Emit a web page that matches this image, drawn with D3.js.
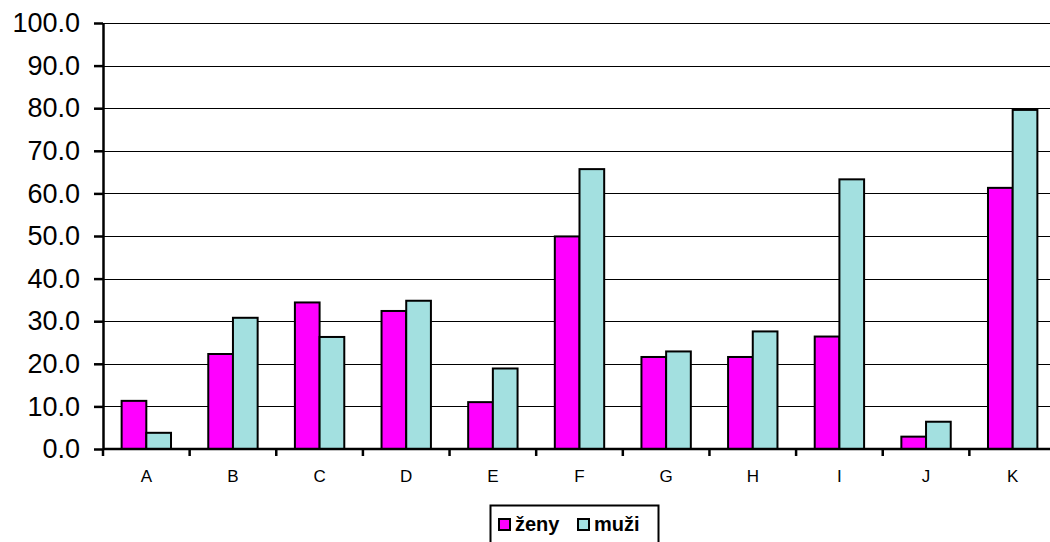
<!DOCTYPE html>
<html>
<head>
<meta charset="utf-8">
<script src="https://cdn.jsdelivr.net/npm/d3@7"></script>
<style>
  html, body { margin: 0; padding: 0; background: #fff; overflow: hidden; }
  svg { display: block; }
</style>
</head>
<body>
<svg id="chart" width="1050" height="542"></svg>
<script>
// Categories and the two series (women / men)
const categories = ["A", "B", "C", "D", "E", "F", "G", "H", "I", "J", "K"];
const zeny = [11.3, 22.3, 34.4, 32.4, 11.0, 49.9, 21.6, 21.6, 26.4, 2.9, 61.3];
const muzi = [3.8, 30.8, 26.3, 34.8, 18.9, 65.7, 22.9, 27.6, 63.3, 6.4, 79.6];
const seriesNames = ["ženy", "muži"];
const seriesColors = ["#ff00ff", "#a3e0e0"];
const yTicks = [0, 10, 20, 30, 40, 50, 60, 70, 80, 90, 100];

const svg = d3.select("#chart");
const plotLeft = 103, plotRight = 1056, plotTop = 23, plotBottom = 449;
const font = "Liberation Sans, Arial, sans-serif";

const y = d3.scaleLinear().domain([0, 100]).range([plotBottom, plotTop]);
const x0 = d3.scaleBand().domain(categories).range([plotLeft, plotRight])
  .paddingInner(0.43).paddingOuter(0.215);
const x1 = d3.scaleBand().domain(seriesNames).range([0, x0.bandwidth()]);
const color = d3.scaleOrdinal().domain(seriesNames).range(seriesColors);

// Horizontal gridlines
svg.append("g")
  .selectAll("line")
  .data(yTicks.filter(d => d > 0))
  .join("line")
  .attr("x1", plotLeft).attr("x2", 1050)
  .attr("y1", d => Math.round(y(d)) + 0.5).attr("y2", d => Math.round(y(d)) + 0.5)
  .attr("stroke", "#000").attr("stroke-width", 1);

// Bars
const rows = categories.map((c, i) => ({ cat: c, values: [zeny[i], muzi[i]] }));
svg.append("g")
  .selectAll("g")
  .data(rows)
  .join("g")
  .attr("transform", d => `translate(${x0(d.cat)},0)`)
  .selectAll("rect")
  .data(d => d.values.map((v, k) => ({ name: seriesNames[k], value: v })))
  .join("rect")
  .attr("x", d => x1(d.name))
  .attr("y", d => y(d.value))
  .attr("width", x1.bandwidth())
  .attr("height", d => y(0) - y(d.value))
  .attr("fill", d => color(d.name))
  .attr("stroke", "#000")
  .attr("stroke-width", 2);

// Y axis
const yAxis = d3.axisLeft(y).tickValues(yTicks).tickFormat(d3.format(".1f"))
  .tickSizeInner(9).tickSizeOuter(0).tickPadding(14);
const gy = svg.append("g").attr("transform", `translate(${plotLeft},0)`).call(yAxis);
gy.select(".domain").attr("stroke", "#000").attr("stroke-width", 2.5);
gy.selectAll(".tick line").attr("stroke", "#000").attr("stroke-width", 2.5);
gy.selectAll(".tick text")
  .attr("font-family", font)
  .attr("font-size", 27).attr("fill", "#000");

// X axis baseline and tick marks at band boundaries
const step = x0.step();
svg.append("line")
  .attr("x1", plotLeft).attr("x2", 1050)
  .attr("y1", plotBottom).attr("y2", plotBottom)
  .attr("stroke", "#000").attr("stroke-width", 2.5);
svg.append("g")
  .selectAll("line")
  .data(d3.range(categories.length + 1))
  .join("line")
  .attr("x1", i => plotLeft + i * step).attr("x2", i => plotLeft + i * step)
  .attr("y1", plotBottom).attr("y2", plotBottom + 7)
  .attr("stroke", "#000").attr("stroke-width", 2.5);

// Category labels
svg.append("g")
  .selectAll("text")
  .data(categories)
  .join("text")
  .attr("x", d => x0(d) + x0.bandwidth() / 2)
  .attr("y", 482)
  .attr("text-anchor", "middle")
  .attr("font-family", font)
  .attr("font-size", 17)
  .attr("fill", "#000")
  .text(d => d);

// Legend
const legend = svg.append("g").attr("transform", "translate(490,505)");
legend.append("rect")
  .attr("x", 0.5).attr("y", 0.5).attr("width", 168).attr("height", 40)
  .attr("fill", "#fff").attr("stroke", "#000").attr("stroke-width", 2);
const legendX = [9, 88];
seriesNames.forEach((name, k) => {
  const g = legend.append("g").attr("transform", `translate(${legendX[k]},0)`);
  g.append("rect")
    .attr("x", 0).attr("y", 14).attr("width", 11).attr("height", 11)
    .attr("fill", color(name)).attr("stroke", "#000").attr("stroke-width", 2);
  g.append("text")
    .attr("x", 16).attr("y", 25.5)
    .attr("font-family", font)
    .attr("font-size", 20).attr("font-weight", "bold")
    .attr("fill", "#000")
    .text(name);
});
</script>
</body>
</html>
